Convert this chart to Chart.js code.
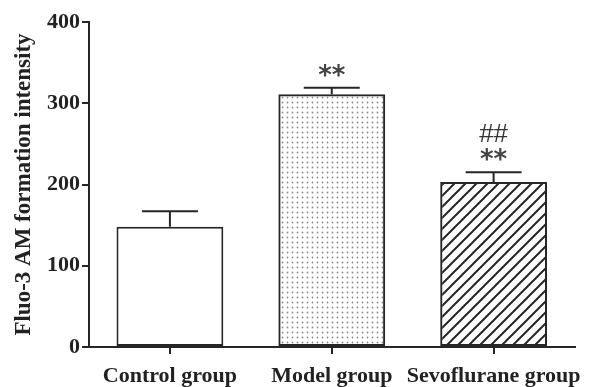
<!DOCTYPE html>
<html>
<head>
<meta charset="utf-8">
<script src="https://cdn.jsdelivr.net/npm/chart.js@4"></script>
<style>
  html, body { margin: 0; padding: 0; background: #fff; }
  #wrap { width: 592px; height: 387px; }
</style>
</head>
<body>
<div id="wrap"><canvas id="myChart"></canvas></div>
<script>
const groups = ['Control group', 'Model group', 'Sevoflurane group'];
const means = [148, 311, 203];
const errors = [19, 8, 12];
const marks = [[], ['**'], ['##', '**']];
const yTicks = [0, 100, 200, 300, 400];

const ink = '#262626';
const serif = '"Liberation Serif", "Times New Roman", serif';

// dotted fill for the model bar
function dotPattern() {
  const c = document.createElement('canvas');
  c.width = 5; c.height = 5;
  const g = c.getContext('2d');
  g.fillStyle = '#8a8a8a';
  g.beginPath();
  g.arc(2.5, 2.5, 0.9, 0, Math.PI * 2);
  g.fill();
  return g.createPattern(c, 'repeat');
}

// diagonal hatch for the sevoflurane bar
function hatchPattern() {
  const s = 11;
  const c = document.createElement('canvas');
  c.width = s; c.height = s;
  const g = c.getContext('2d');
  g.strokeStyle = ink;
  g.lineWidth = 2;
  g.beginPath();
  g.moveTo(-1, s + 1); g.lineTo(s + 1, -1);
  g.moveTo(-1, 1); g.lineTo(1, -1);
  g.moveTo(s - 1, s + 1); g.lineTo(s + 1, s - 1);
  g.stroke();
  return g.createPattern(c, 'repeat');
}

const errorBars = {
  id: 'errorBars',
  afterDatasetsDraw(chart) {
    const ctx = chart.ctx;
    const meta = chart.getDatasetMeta(0);
    const y = chart.scales.y;
    ctx.save();
    ctx.strokeStyle = ink;
    ctx.lineWidth = 2;
    meta.data.forEach((bar, i) => {
      const top = y.getPixelForValue(means[i] + errors[i]);
      const base = y.getPixelForValue(means[i]);
      ctx.beginPath();
      ctx.moveTo(bar.x, base);
      ctx.lineTo(bar.x, top);
      ctx.moveTo(bar.x - 28, top);
      ctx.lineTo(bar.x + 28, top);
      ctx.stroke();

      ctx.textAlign = 'center';
      ctx.textBaseline = 'middle';
      const list = marks[i];
      list.forEach((m, k) => {
        const off = (list.length - k) * 22 - 6;
        if (m === '**') {
          ctx.fillStyle = '#444';
          ctx.font = 'bold 26px "DejaVu Sans"';
          ctx.fillText(m, bar.x, top - off + 5);
        } else {
          ctx.fillStyle = '#333';
          ctx.font = '26px "Liberation Sans"';
          ctx.fillText(m, bar.x, top - off + 1);
        }
      });
    });
    ctx.restore();
  }
};

new Chart(document.getElementById('myChart'), {
  type: 'bar',
  data: {
    labels: groups,
    datasets: [{
      data: means,
      backgroundColor: ['#ffffff', dotPattern(), hatchPattern()],
      borderColor: ink,
      borderWidth: 2,
      borderSkipped: false,
      barPercentage: 0.66,
      categoryPercentage: 1
    }]
  },
  options: {
    responsive: true,
    maintainAspectRatio: false,
    animation: false,
    layout: { padding: { top: 22, right: 15, left: 0, bottom: 0 } },
    plugins: { legend: { display: false }, tooltip: { enabled: false } },
    scales: {
      x: {
        afterFit(s) { s.height = 40; },
        grid: { display: true, drawOnChartArea: false, offset: false, color: ink, lineWidth: 2, tickLength: 7 },
        border: { color: ink, width: 2 },
        ticks: {
          color: '#222', padding: 9, maxRotation: 0, minRotation: 0, autoSkip: false,
          font: { family: serif, size: 22, weight: 'bold' }
        }
      },
      y: {
        min: 0,
        max: 400,
        afterFit(s) { s.width = 89; },
        afterBuildTicks(s) { s.ticks = yTicks.map(v => ({ value: v })); },
        grid: { display: true, drawOnChartArea: false, color: ink, lineWidth: 2, tickLength: 7 },
        border: { color: ink, width: 2 },
        ticks: { color: '#222', padding: 2, font: { family: serif, size: 22, weight: 'bold' } },
        title: {
          display: true,
          text: 'Fluo-3 AM formation intensity',
          color: '#222',
          padding: { top: 10, bottom: 0 },
          font: { family: serif, size: 23, weight: 'bold' }
        }
      }
    }
  },
  plugins: [errorBars]
});
</script>
</body>
</html>
